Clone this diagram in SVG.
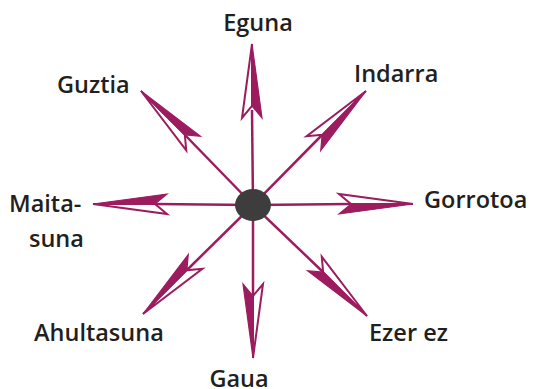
<svg xmlns="http://www.w3.org/2000/svg" width="535" height="389" viewBox="0 0 535 389">
<style>
.lbl{font-family:"Open Sans","Liberation Sans",sans-serif;font-weight:600;font-size:23.5px;fill:#231f20}
.ln{stroke:#9c1c5f;stroke-width:2.5;fill:none}
.hf{fill:#9c1c5f;stroke:#9c1c5f;stroke-width:1.2;stroke-linejoin:miter}
.ho{fill:#fff;stroke:#9c1c5f;stroke-width:2;stroke-linejoin:miter}
</style>
<defs>
<g id="head">
<polygon class="ho" points="0,0 -74,-10 -62,0"/>
<polygon class="hf" points="0,0 -74,10 -62,0"/>
</g>
</defs>
<g id="connectors">
<line class="ln" x1="253" y1="205" x2="252" y2="110"/>
<use href="#head" transform="translate(252,44) rotate(-90)"/>
<line class="ln" x1="253" y1="205" x2="351" y2="204"/>
<use href="#head" transform="translate(413,204)"/>
<line class="ln" x1="253" y1="205" x2="253" y2="296"/>
<use href="#head" transform="translate(253,358) rotate(90)"/>
<line class="ln" x1="253" y1="205" x2="155" y2="204"/>
<use href="#head" transform="translate(93,204) rotate(180)"/>
<line class="ln" x1="253" y1="205" x2="322" y2="135"/>
<use href="#head" transform="translate(366,91) rotate(-45)"/>
<line class="ln" x1="253" y1="205" x2="185" y2="135"/>
<use href="#head" transform="translate(141,91) rotate(-135)"/>
<line class="ln" x1="253" y1="205" x2="187" y2="270"/>
<use href="#head" transform="translate(143,314) rotate(135)"/>
<line class="ln" x1="253" y1="205" x2="323" y2="272"/>
<use href="#head" transform="translate(367,316) rotate(45)"/>
</g>
<g id="center"><ellipse cx="253" cy="205" rx="18" ry="16" fill="#3d3d3d"/></g>
<g id="n-eguna"><text class="lbl" x="258" y="31" text-anchor="middle">Eguna</text></g>
<g id="n-indarra"><text class="lbl" x="354" y="82">Indarra</text></g>
<g id="n-guztia"><text class="lbl" x="57" y="93">Guztia</text></g>
<g id="n-gorrotoa"><text class="lbl" x="424" y="208">Gorrotoa</text></g>
<g id="n-maitasuna"><text class="lbl" x="9" y="212">Maita-</text><text class="lbl" x="29" y="247">suna</text></g>
<g id="n-ahultasuna"><text class="lbl" x="34" y="341">Ahultasuna</text></g>
<g id="n-ezer"><text class="lbl" x="369" y="341">Ezer ez</text></g>
<g id="n-gaua"><text class="lbl" x="239" y="387" text-anchor="middle">Gaua</text></g>
</svg>
